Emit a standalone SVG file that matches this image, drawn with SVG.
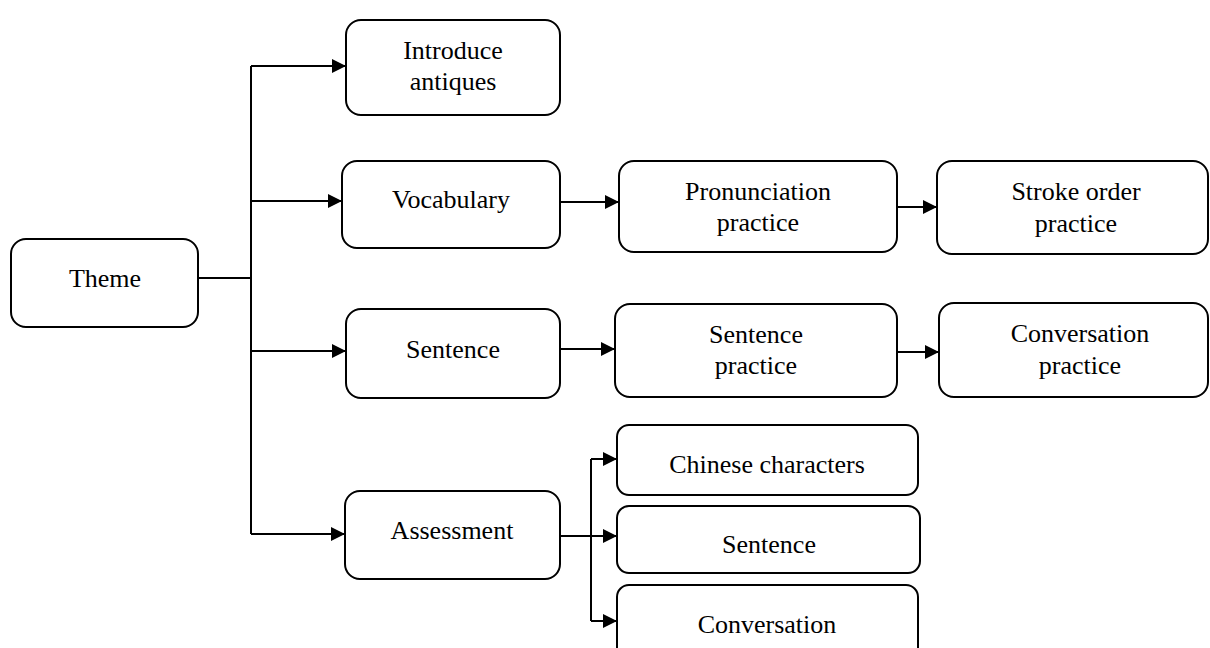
<svg xmlns="http://www.w3.org/2000/svg" width="1210" height="648" viewBox="0 0 1210 648">
  <style>
    .box { fill: #ffffff; stroke: #000000; stroke-width: 2; }
    .lbl { font-family: "Liberation Serif", "Times New Roman", serif; font-size: 26px; fill: #000000; text-anchor: middle; }
    .wire { fill: none; stroke: #000000; stroke-width: 2; }
  </style>
  <defs>
    <marker id="arrow" viewBox="0 0 14 14" refX="14" refY="7" markerWidth="14" markerHeight="14" markerUnits="userSpaceOnUse" orient="auto">
      <path d="M0,0 L14,7 L0,14 Z" fill="#000000"/>
    </marker>
  </defs>

  <rect width="1210" height="648" fill="#ffffff"/>

  <!-- connectors -->
  <g id="connectors">
    <path class="wire" d="M198,278 H251"/>
    <path class="wire" d="M251,66 V534"/>
    <path class="wire" d="M251,66 H346" marker-end="url(#arrow)"/>
    <path class="wire" d="M251,201 H342" marker-end="url(#arrow)"/>
    <path class="wire" d="M251,351 H346" marker-end="url(#arrow)"/>
    <path class="wire" d="M251,534 H345" marker-end="url(#arrow)"/>
    <path class="wire" d="M560,202 H619" marker-end="url(#arrow)"/>
    <path class="wire" d="M897,207 H937" marker-end="url(#arrow)"/>
    <path class="wire" d="M560,349 H615" marker-end="url(#arrow)"/>
    <path class="wire" d="M897,352 H939" marker-end="url(#arrow)"/>
    <path class="wire" d="M560,536 H617" marker-end="url(#arrow)"/>
    <path class="wire" d="M591,459 V621"/>
    <path class="wire" d="M591,459 H617" marker-end="url(#arrow)"/>
    <path class="wire" d="M591,621 H617" marker-end="url(#arrow)"/>
  </g>

  <g id="theme">
    <rect class="box" x="11" y="239" width="187" height="88" rx="15"/>
    <text class="lbl" x="105" y="287">Theme</text>
  </g>

  <g id="introduce-antiques">
    <rect class="box" x="346" y="20" width="214" height="95" rx="15"/>
    <text class="lbl" x="453" y="59">Introduce</text>
    <text class="lbl" x="453" y="90">antiques</text>
  </g>

  <g id="vocabulary">
    <rect class="box" x="342" y="161" width="218" height="87" rx="15"/>
    <text class="lbl" x="451" y="208">Vocabulary</text>
  </g>

  <g id="pronunciation-practice">
    <rect class="box" x="619" y="161" width="278" height="91" rx="15"/>
    <text class="lbl" x="758" y="200">Pronunciation</text>
    <text class="lbl" x="758" y="231">practice</text>
  </g>

  <g id="stroke-order-practice">
    <rect class="box" x="937" y="161" width="271" height="93" rx="15"/>
    <text class="lbl" x="1076" y="200">Stroke order</text>
    <text class="lbl" x="1076" y="232">practice</text>
  </g>

  <g id="sentence">
    <rect class="box" x="346" y="309" width="214" height="89" rx="15"/>
    <text class="lbl" x="453" y="358">Sentence</text>
  </g>

  <g id="sentence-practice">
    <rect class="box" x="615" y="304" width="282" height="93" rx="15"/>
    <text class="lbl" x="756" y="343">Sentence</text>
    <text class="lbl" x="756" y="374">practice</text>
  </g>

  <g id="conversation-practice">
    <rect class="box" x="939" y="303" width="269" height="94" rx="15"/>
    <text class="lbl" x="1080" y="342">Conversation</text>
    <text class="lbl" x="1080" y="374">practice</text>
  </g>

  <g id="assessment">
    <rect class="box" x="345" y="491" width="215" height="88" rx="15"/>
    <text class="lbl" x="452" y="539">Assessment</text>
  </g>

  <g id="chinese-characters">
    <rect class="box" x="617" y="425" width="301" height="70" rx="12"/>
    <text class="lbl" x="767" y="473">Chinese characters</text>
  </g>

  <g id="assess-sentence">
    <rect class="box" x="617" y="506" width="303" height="67" rx="12"/>
    <text class="lbl" x="769" y="553">Sentence</text>
  </g>

  <g id="conversation">
    <rect class="box" x="617" y="585" width="301" height="75" rx="12"/>
    <text class="lbl" x="767" y="633">Conversation</text>
  </g>
</svg>
